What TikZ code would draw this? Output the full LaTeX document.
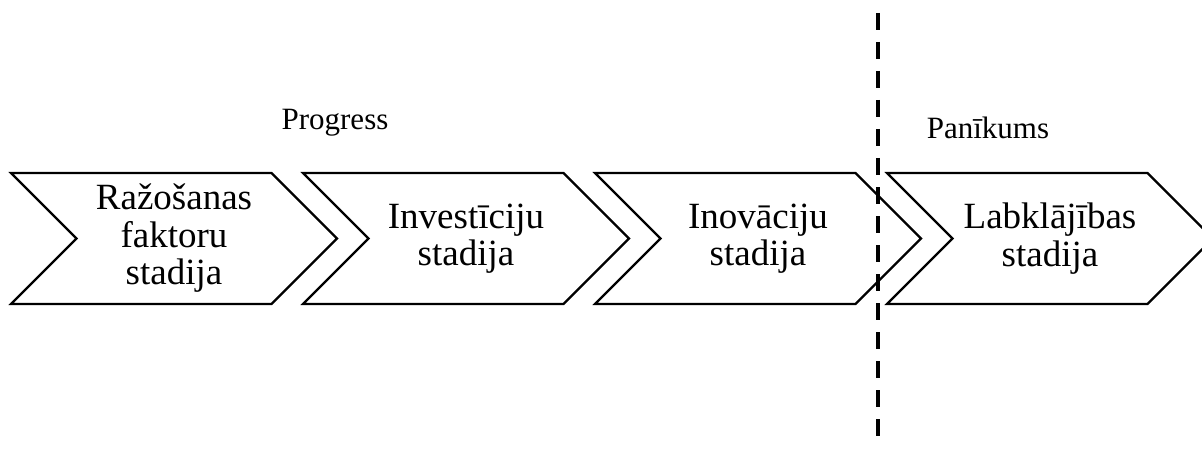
\documentclass[tikz,border=0pt]{standalone}
\usepackage{fontspec}
\setmainfont{Liberation Serif}
\usetikzlibrary{shapes.symbols, positioning}

\begin{document}
\begin{tikzpicture}[x=1pt, y=1pt,
        stage/.style = {signal, signal from=west, signal to=east,
                        signal pointer angle=90,
                        draw, line width=2.2pt, fill=white,
                        minimum width=326pt, minimum height=131pt,
                        inner sep=0pt, text width=190pt, align=center,
                        font=\fontsize{37}{37.5}\selectfont},
        annot/.style = {anchor=base, inner sep=0pt,
                        font=\fontsize{31}{31}\selectfont},
      divider/.style = {line width=4pt, dash pattern=on 17pt off 12pt}
                        ]
\useasboundingbox (0,0) rectangle (1202,448);
% Draw the stages
\foreach \txt [count=\i] in {Ražošanas\\faktoru\\stadija,
                             Investīciju\\stadija,
                             Inovāciju\\stadija,
                             Labklājības\\stadija}
    \node[stage] (S-\i) at ({174+292*(\i-1)},209.5) {\txt};
% Draw the labels
    \node[annot] (progress) at (335,318) {Progress};
    \node[annot] (panikums) at (988,309) {Panīkums};
% Draw the dividing line
    \coordinate (D-top) at (878,435);
    \coordinate (D-bot) at (878,11);
    \draw[divider] (D-top) -- (D-bot);
\end{tikzpicture}
\end{document}
